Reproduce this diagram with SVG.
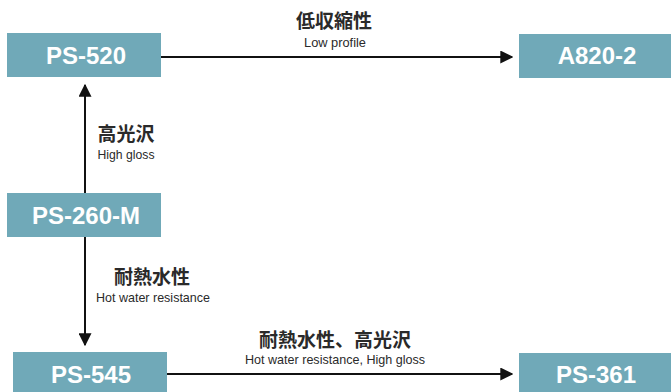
<svg xmlns="http://www.w3.org/2000/svg" width="671" height="392" viewBox="0 0 671 392">
<defs>
<style>
.box{fill:#70a9b8}
.nt{font-family:"Liberation Sans",Arial,sans-serif;font-weight:bold;font-size:24px;fill:#fff;text-anchor:middle}
.jp{font-family:"Noto Sans CJK JP","Noto Sans",sans-serif;font-weight:bold;font-size:19px;fill:#2a2a2a;text-anchor:middle}
.en{font-family:"Liberation Sans",Arial,sans-serif;font-size:13.5px;fill:#2a2a2a;text-anchor:middle}
.ln{stroke:#111;stroke-width:2;fill:none}
</style>
<marker id="ah" viewBox="0 0 10 10" refX="9" refY="5" markerWidth="6.5" markerHeight="6.5" orient="auto" markerUnits="strokeWidth">
<path d="M0,0 L10,5 L0,10 Z" fill="#111"/>
</marker>
</defs>
<g id="connectors">
<line class="ln" x1="161" y1="57" x2="512" y2="57" marker-end="url(#ah)"/>
<line class="ln" x1="85" y1="193" x2="85" y2="85" marker-end="url(#ah)"/>
<line class="ln" x1="85" y1="237" x2="85" y2="345" marker-end="url(#ah)"/>
<line class="ln" x1="167" y1="374" x2="512" y2="374" marker-end="url(#ah)"/>
</g>
<g id="labels">
<text class="jp" x="334" y="28">低収縮性</text>
<text class="en" x="335" y="46.5" textLength="62" lengthAdjust="spacingAndGlyphs">Low profile</text>
<text class="jp" x="126" y="141">高光沢</text>
<text class="en" x="126" y="159" textLength="57" lengthAdjust="spacingAndGlyphs">High gloss</text>
<text class="jp" x="152" y="284">耐熱水性</text>
<text class="en" x="153" y="302" textLength="114" lengthAdjust="spacingAndGlyphs">Hot water resistance</text>
<text class="jp" x="335" y="347">耐熱水性、高光沢</text>
<text class="en" x="335" y="363.5" textLength="180" lengthAdjust="spacingAndGlyphs">Hot water resistance, High gloss</text>
</g>
<g id="PS-520"><rect class="box" x="7" y="33" width="154" height="44"/><text class="nt" x="86" y="63.5">PS-520</text></g>
<g id="PS-260-M"><rect class="box" x="7" y="193" width="154" height="44"/><text class="nt" x="86" y="223.5">PS-260-M</text></g>
<g id="PS-545"><rect class="box" x="13" y="352" width="154" height="42"/><text class="nt" x="91" y="382.5">PS-545</text></g>
<g id="A820-2"><rect class="box" x="519" y="34" width="156" height="44"/><text class="nt" x="597" y="63.5">A820-2</text></g>
<g id="PS-361"><rect class="box" x="519" y="353" width="156" height="42"/><text class="nt" x="596" y="382.5">PS-361</text></g>
</svg>
